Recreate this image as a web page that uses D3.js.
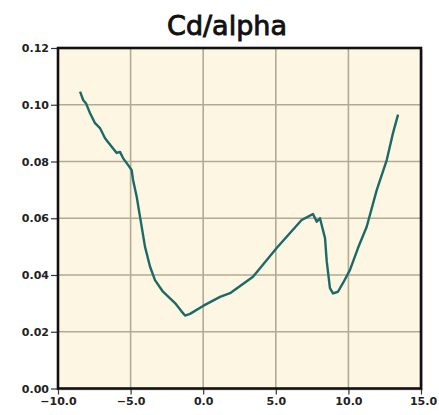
<html>
<head>
<meta charset="UTF-8">
<title>Cd/alpha</title>
<script src="https://cdn.jsdelivr.net/npm/d3@7/dist/d3.min.js"></script>
<style>
  body { margin: 0; background: #fff; }
  svg { display: block; }
</style>
</head>
<body>
<div id="chart"></div>
<script>
// angle of attack (deg) and drag coefficient
var alpha = [-8.48, -8.26, -8.07, -7.80, -7.45, -7.11, -6.77, -6.56, -6.30, -5.96,
             -5.73, -5.52, -5.18, -4.93, -4.83, -4.58, -4.35, -4.01, -3.66, -3.32,
             -2.77, -1.94, -1.48, -1.25, -0.91, -0.01, 1.16, 1.85, 3.43, 5.06,
             5.98, 6.78, 7.13, 7.56, 7.82, 8.04, 8.16, 8.39, 8.51, 8.73,
             8.94, 9.28, 9.63, 10.11, 10.66, 11.26, 11.95, 12.64, 13.07, 13.42];
var cd    = [0.1046, 0.1016, 0.1005, 0.0971, 0.0935, 0.0918, 0.0883, 0.0869, 0.0852, 0.0830,
             0.0834, 0.0812, 0.0788, 0.0770, 0.0735, 0.0676, 0.0605, 0.0500, 0.0429, 0.0382,
             0.0341, 0.0301, 0.0271, 0.0257, 0.0263, 0.0291, 0.0323, 0.0336, 0.0394, 0.0495,
             0.0548, 0.0594, 0.0603, 0.0615, 0.0588, 0.0600, 0.0576, 0.0530, 0.0447, 0.0354,
             0.0335, 0.0341, 0.0372, 0.0418, 0.0495, 0.0570, 0.0699, 0.0805, 0.0900, 0.0965];
var xTicks = [-10, -5, 0, 5, 10, 15];
var yTicks = [0, 0.02, 0.04, 0.06, 0.08, 0.10, 0.12];
var title = "Cd/alpha";

var W = 439, H = 415;
var svg = d3.select("#chart").append("svg").attr("width", W).attr("height", H);

var x = d3.scaleLinear().domain([-10, 15]).range([58, 421]);
var y = d3.scaleLinear().domain([0, 0.12]).range([388.5, 48]);

// plot background + slight shadow
svg.append("rect")
    .attr("x", x(-10) + 2).attr("y", y(0.12) + 2)
    .attr("width", x(15) - x(-10)).attr("height", y(0) - y(0.12))
    .attr("fill", "#d8d6d0");
svg.append("rect")
    .attr("x", x(-10)).attr("y", y(0.12))
    .attr("width", x(15) - x(-10)).attr("height", y(0) - y(0.12))
    .attr("fill", "#fdf6e2");

// grid
svg.append("g").selectAll("line.vg")
    .data(xTicks.slice(1, -1)).enter().append("line")
    .attr("x1", function(d){ return x(d); }).attr("x2", function(d){ return x(d); })
    .attr("y1", y(0.12)).attr("y2", y(0))
    .attr("stroke", "#b3aa93").attr("stroke-width", 1.6);
svg.append("g").selectAll("line.hg")
    .data(yTicks.slice(1, -1)).enter().append("line")
    .attr("y1", function(d){ return y(d); }).attr("y2", function(d){ return y(d); })
    .attr("x1", x(-10)).attr("x2", x(15))
    .attr("stroke", "#b3aa93").attr("stroke-width", 1.6);

// axes
var xAxis = svg.append("g").attr("transform", "translate(0," + y(0) + ")")
    .call(d3.axisBottom(x).tickValues(xTicks).tickSize(6).tickPadding(3)
        .tickFormat(d3.format(".1f")));
var yAxis = svg.append("g").attr("transform", "translate(" + x(-10) + ",0)")
    .call(d3.axisLeft(y).tickValues(yTicks).tickSize(7).tickPadding(2)
        .tickFormat(d3.format(".2f")));
[xAxis, yAxis].forEach(function(a){
    a.select(".domain").remove();
    a.selectAll(".tick line").attr("stroke", "#333").attr("stroke-width", 1.2);
    a.selectAll("text")
        .attr("font-family", "DejaVu Sans")
        .attr("font-size", 11).attr("font-weight", "bold").attr("fill", "#222");
});
// keep the last label inside the window
xAxis.selectAll(".tick").filter(function(d){ return d === 15; })
    .select("text").attr("dx", 2);

// frame
svg.append("rect")
    .attr("x", x(-10)).attr("y", y(0.12))
    .attr("width", x(15) - x(-10)).attr("height", y(0) - y(0.12))
    .attr("fill", "none").attr("stroke", "#111").attr("stroke-width", 2.6);

// curve
var line = d3.line()
    .x(function(d, i){ return x(alpha[i]); })
    .y(function(d, i){ return y(cd[i]); });
svg.append("path")
    .datum(cd)
    .attr("d", line)
    .attr("fill", "none")
    .attr("stroke", "#1c6a67")
    .attr("stroke-width", 2.4)
    .attr("stroke-linejoin", "round");

// title
svg.append("text")
    .attr("x", 227).attr("y", 35)
    .attr("text-anchor", "middle")
    .attr("font-family", "DejaVu Sans")
    .attr("font-size", 27)
    .attr("stroke", "#111").attr("stroke-width", 0.9)
    .attr("fill", "#111")
    .text(title);
</script>
</body>
</html>
